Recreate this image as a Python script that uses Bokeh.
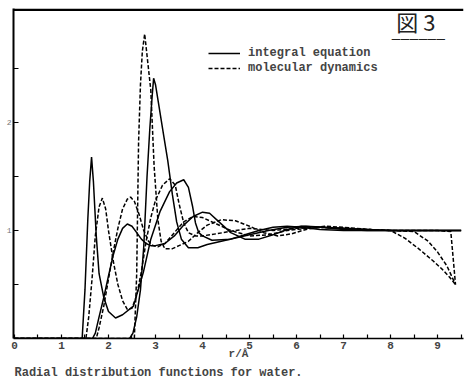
from bokeh.plotting import figure
from bokeh.models import (Range1d, LinearAxis, FixedTicker, Legend, LegendItem,
                          Label, Title, BoxAnnotation)
from bokeh.embed import file_html
from bokeh.resources import INLINE

# ---- data ----
# O-O, integral equation (solid)
r_oo_ie = [0, 2.45, 2.52, 2.6, 2.68, 2.75, 2.82, 2.88, 2.93, 2.96, 3.0, 3.06, 3.17, 3.26, 3.36, 3.45, 3.55, 3.7, 3.9, 4.1, 4.4, 4.7, 5.0, 5.4, 5.8, 6.2, 6.6, 7.0, 7.5, 8.0, 8.5, 9.0, 9.5]
g_oo_ie = [0, 0, 0.05, 0.2, 0.45, 0.85, 1.5, 1.95, 2.25, 2.41, 2.35, 2.19, 1.89, 1.65, 1.33, 1.08, 0.92, 0.84, 0.84, 0.87, 0.9, 0.93, 0.96, 1.0, 1.03, 1.04, 1.03, 1.02, 1.01, 1.0, 1.0, 1.0, 1.0]
# O-O, molecular dynamics (dashed)
r_oo_md = [0, 2.55, 2.6, 2.64, 2.68, 2.72, 2.77, 2.85, 2.9, 2.97, 3.05, 3.12, 3.2, 3.35, 3.5, 3.7, 3.9, 4.1, 4.4, 4.7, 5.0, 5.3, 5.6, 5.9, 6.2, 6.6, 7.0, 7.5, 8.0, 8.3, 8.6, 8.9, 9.1, 9.25, 9.38]
g_oo_md = [0, 0, 0.6, 1.82, 2.35, 2.66, 2.82, 2.5, 2.3, 1.6, 1.1, 0.9, 0.83, 0.83, 0.86, 0.9, 0.98, 1.05, 1.1, 1.09, 1.04, 0.98, 0.95, 0.97, 1.01, 1.04, 1.03, 1.01, 1.0, 0.93, 0.83, 0.72, 0.64, 0.57, 0.5]
# O-H, integral equation (solid)
r_oh_ie = [0, 1.44, 1.5, 1.56, 1.6, 1.64, 1.68, 1.74, 1.8, 1.9, 2.0, 2.15, 2.3, 2.53, 2.74, 2.9, 3.1, 3.3, 3.45, 3.6, 3.7, 3.79, 3.85, 3.92, 4.0, 4.2, 4.6, 4.9, 5.2, 5.5, 5.8, 6.1, 6.5, 7.0, 7.5, 8.0, 8.5, 9.0, 9.5]
g_oh_ie = [0, 0, 0.45, 1.1, 1.45, 1.68, 1.45, 0.95, 0.6, 0.38, 0.25, 0.19, 0.22, 0.3, 0.61, 0.92, 1.18, 1.36, 1.44, 1.47, 1.4, 1.22, 1.07, 0.98, 0.95, 0.91, 0.92, 0.96, 1.0, 1.03, 1.04, 1.03, 1.01, 1.0, 1.0, 1.0, 1.0, 1.0, 1.0]
# O-H, molecular dynamics (dashed)
r_oh_md = [0, 1.52, 1.58, 1.65, 1.72, 1.8, 1.87, 1.94, 2.0, 2.1, 2.2, 2.3, 2.4, 2.5, 2.6, 2.7, 2.8, 2.9, 3.0, 3.15, 3.3, 3.42, 3.5, 3.6, 3.7, 3.85, 4.0, 4.3, 4.7, 5.0, 5.5, 6.0, 6.5, 7.0, 7.5, 8.0, 8.5, 8.8, 9.0, 9.2, 9.38]
g_oh_md = [0, 0, 0.2, 0.55, 0.95, 1.22, 1.3, 1.2, 1.0, 0.72, 0.5, 0.35, 0.27, 0.28, 0.4, 0.62, 0.9, 1.12, 1.28, 1.42, 1.48, 1.42, 1.25, 1.07, 0.98, 0.95, 0.95, 0.97, 1.0, 1.02, 1.0, 1.02, 1.03, 1.02, 1.01, 1.0, 0.99, 0.9, 0.8, 0.67, 0.5]
# H-H, integral equation (solid)
r_hh_ie = [0, 1.66, 1.72, 1.8, 1.9, 2.0, 2.1, 2.2, 2.3, 2.4, 2.5, 2.6, 2.7, 2.8, 2.9, 3.0, 3.2, 3.4, 3.6, 3.8, 4.0, 4.15, 4.35, 4.6, 4.9, 5.2, 5.5, 5.8, 6.1, 6.5, 7.0, 7.5, 8.0, 8.5, 9.0, 9.5]
g_hh_ie = [0, 0, 0.05, 0.2, 0.38, 0.58, 0.77, 0.92, 1.02, 1.06, 1.04, 0.98, 0.92, 0.88, 0.86, 0.86, 0.88, 0.95, 1.05, 1.13, 1.17, 1.16, 1.08, 0.98, 0.92, 0.92, 0.96, 1.01, 1.04, 1.03, 1.01, 1.0, 1.0, 1.0, 1.0, 1.0]
# H-H, molecular dynamics (dashed)
r_hh_md = [0, 1.74, 1.8, 1.9, 2.0, 2.1, 2.2, 2.3, 2.4, 2.47, 2.55, 2.65, 2.75, 2.85, 2.95, 3.05, 3.2, 3.4, 3.6, 3.8, 4.0, 4.3, 4.6, 5.0, 5.4, 5.8, 6.2, 6.6, 7.0, 7.5, 8.0, 8.5, 9.0, 9.28, 9.38]
g_hh_md = [0, 0, 0.1, 0.3, 0.55, 0.8, 1.02, 1.2, 1.29, 1.31, 1.27, 1.15, 1.0, 0.9, 0.86, 0.85, 0.88, 0.98, 1.08, 1.13, 1.12, 1.06, 1.0, 0.95, 0.96, 1.0, 1.02, 1.03, 1.02, 1.01, 1.0, 1.0, 1.0, 0.99, 0.5]

x_major = [0, 1, 2, 3, 4, 5, 6, 7, 8, 9]
x_minor = [0.5, 1.5, 2.5, 3.5, 4.5, 5.5, 6.5, 7.5, 8.5, 9.5]
y_major = [1, 2]
y_minor = [0.5, 1.5, 2.5]
y_top = 3.056

series_labels = ["integral equation", "molecular dynamics"]
caption = "Radial distribution functions for water."
x_label = "r/Å"
mark = "図 3"

FONT = "Liberation Mono"

p = figure(width=464, height=380, output_backend="svg", toolbar_location=None,
           x_range=Range1d(-0.02, 9.55), y_range=Range1d(0, y_top),
           x_axis_type=None, y_axis_type=None,
           min_border_left=13, min_border_right=1, min_border_top=8, min_border_bottom=0)
p.grid.visible = False
p.outline_line_color = None
p.background_fill_color = "white"

# bottom axis
xa = LinearAxis(ticker=FixedTicker(ticks=x_major, minor_ticks=x_minor),
                major_tick_in=4, major_tick_out=0, minor_tick_in=4, minor_tick_out=0,
                axis_line_width=1.6, major_tick_line_width=1.2, minor_tick_line_width=1.2,
                major_label_text_font=FONT, major_label_text_font_style="bold",
                major_label_text_font_size="11px", major_label_standoff=3,
                axis_label=x_label, axis_label_text_font=FONT,
                axis_label_text_font_style="bold", axis_label_text_font_size="11px",
                axis_label_standoff=-4)
p.add_layout(xa, "below")

# left axis
ya = LinearAxis(ticker=FixedTicker(ticks=y_major, minor_ticks=y_minor),
                major_tick_in=5, major_tick_out=0, minor_tick_in=5, minor_tick_out=0,
                axis_line_width=2, major_tick_line_width=1.2, minor_tick_line_width=1.2,
                major_label_text_font=FONT, major_label_text_font_size="8px",
                major_label_text_color="#777777", major_label_standoff=2)
p.add_layout(ya, "left")

# heavy top border of the original figure: a thin filled band at the frame top
p.add_layout(BoxAnnotation(bottom=y_top - 0.022, fill_color="black", fill_alpha=1.0,
                           line_color=None))

solid_kw = dict(line_color="black", line_width=1.5)
dash_kw = dict(line_color="black", line_width=1.5, line_dash="4 2")

s1 = p.line(r_oh_ie, g_oh_ie, **solid_kw)
p.line(r_hh_ie, g_hh_ie, **solid_kw)
p.line(r_oo_ie, g_oo_ie, **solid_kw)
d1 = p.line(r_oh_md, g_oh_md, **dash_kw)
p.line(r_hh_md, g_hh_md, **dash_kw)
p.line(r_oo_md, g_oo_md, **dash_kw)

legend = Legend(items=[LegendItem(label=series_labels[0], renderers=[s1]),
                       LegendItem(label=series_labels[1], renderers=[d1])],
                location=(195, 263), orientation="vertical",
                background_fill_alpha=0, border_line_alpha=0,
                label_text_font=FONT, label_text_font_style="bold",
                label_text_font_size="12px", glyph_width=32, glyph_height=14,
                label_height=14, label_standoff=8, spacing=1, padding=0, margin=0)
p.add_layout(legend)

p.add_layout(Label(x=8.12, y=2.79, text=mark, text_font="Noto Sans CJK JP",
                   text_font_size="22px", text_color="#222222"))
p.add_layout(Label(x=8.02, y=2.74, text="______", text_font="Noto Sans CJK JP",
                   text_font_size="16px", text_color="#222222"))

p.add_layout(Title(text=caption, text_font=FONT, text_font_style="bold",
                   text_font_size="12px", align="left", offset=1, standoff=2),
             "below")

open("out.html", "w").write(file_html(p, INLINE))
